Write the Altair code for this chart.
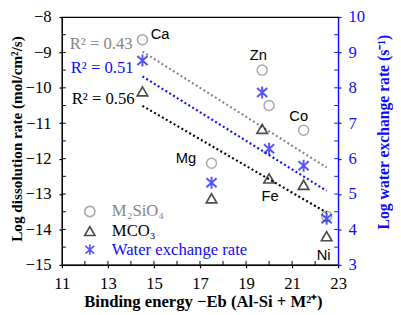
import altair as alt
import pandas as pd

elements = ["Ca", "Mg", "Zn", "Fe", "Co", "Ni"]
binding = [14.5, 17.5, 19.7, 20.0, 21.5, 22.5]
silicate = [-8.64, -12.13, -9.50, -10.50, -11.20, -13.63]
carbonate = [-10.10, -13.12, -11.16, -12.56, -12.74, -14.19]
water = [8.77, 5.32, 7.87, 6.28, 5.80, 4.30]

series_names = ["M₂SiO₄", "MCO₃", "Water exchange rate"]
r2_labels = ["R² = 0.43", "R² = 0.56", "R² = 0.51"]

x_ticks = [11, 13, 15, 17, 19, 21, 23]
x_minor = [12, 13, 14, 15, 16, 17, 18, 19, 20, 21, 22]
y_ticks = [-15, -14, -13, -12, -11, -10, -9, -8]
y_minor = [-14.5, -14, -13.5, -13, -12.5, -12, -11.5, -11, -10.5, -10, -9.5, -9, -8.5]
y2_ticks = [3, 4, 5, 6, 7, 8, 9, 10]

GRAY = "#858585"
BLUE = "#0c0cff"
BLACK = "#000000"
SERIF = "Liberation Serif"
SANS = "Liberation Sans"
TOP = 6
W, H = 282, 253
ASTER = "M0,-1L0,1M-0.85,-0.75L0.85,0.75M-0.85,0.75L0.85,-0.75"

sil = pd.DataFrame({"el": elements, "x": binding, "y": silicate, "series": series_names[0]})
carb = pd.DataFrame({"el": elements, "x": binding, "y": carbonate, "series": series_names[1]})
wat = pd.DataFrame({"el": elements, "x": binding, "y": water, "series": series_names[2]})
xmin_df = pd.DataFrame({"x": x_minor})
ymin_df = pd.DataFrame({"y": y_minor})

xscale = alt.Scale(domain=[11, 23], nice=False, zero=False)
yscale = alt.Scale(domain=[-15, -8], nice=False, zero=False)
y2scale = alt.Scale(domain=[3, 10], nice=False, zero=False)
shape_scale = alt.Scale(domain=series_names, range=["circle", "triangle-up", ASTER])
color_scale = alt.Scale(domain=series_names, range=[GRAY, BLACK, BLUE])

xaxis = alt.Axis(values=x_ticks, tickSize=3, labelPadding=8, labelFont=SERIF, labelFontSize=17,
                 labelColor="black", domainColor="black", tickColor="black", grid=False,
                 labelOverlap=False, labelFlush=False,
                 title="Binding energy −Eb (Al-Si + M²⁺)", titleFont=SERIF, titleFontSize=17,
                 titleFontWeight="bold", titleX=144, titleY=38, titleBaseline="middle",
                 titleAlign="center", titleColor="black")
yaxis = alt.Axis(values=y_ticks, tickSize=3, labelPadding=8, labelFont=SERIF, labelFontSize=17,
                 labelColor="black", domainColor="black", tickColor="black", grid=False,
                 labelOverlap=False, labelFlush=False,
                 title="Log dissolution rate (mol/cm²/s)", titleFont=SERIF, titleFontSize=15.5,
                 titleFontWeight="bold", titleX=-46, titleY=138 - 8 - TOP, titleAngle=270,
                 titleBaseline="middle", titleAlign="center", titleColor="black")
y2axis = alt.Axis(values=y2_ticks, orient="right", tickSize=3, labelPadding=7, labelFont=SERIF,
                  labelFontSize=17, labelColor=BLUE, domainColor=BLUE, tickColor=BLUE, grid=False,
                  labelOverlap=False, labelFlush=False,
                  title="Log water exchange rate (s⁻¹)", titleFont=SERIF, titleFontSize=16,
                  titleFontWeight="bold", titleX=46, titleY=131 - 8 - TOP, titleAngle=270,
                  titleBaseline="middle", titleAlign="center", titleColor=BLUE)

legend = alt.Legend(title=None, orient="none", legendX=20, legendY=204 - 8 - TOP, labelFont=SERIF,
                    labelFontSize=17, symbolSize=110, symbolStrokeWidth=1.7, rowPadding=1,
                    labelOffset=14, padding=0,
                    labelColor={"expr": "datum.value === 'MCO₃' ? 'black' : (datum.value === 'M₂SiO₄' ? '%s' : '%s')" % (GRAY, BLUE)})

X = alt.X("x:Q", scale=xscale, axis=xaxis)
Y = alt.Y("y:Q", scale=yscale, axis=yaxis)
Y2 = alt.Y("y:Q", scale=y2scale, axis=y2axis)
SH = alt.Shape("series:N", scale=shape_scale, legend=legend)
CO = alt.Color("series:N", scale=color_scale, legend=legend)

dash = [2, 2.6]

sil_pts = alt.Chart(sil).mark_point(filled=False, size=105, strokeWidth=1.5).encode(x=X, y=Y, shape=SH, color=CO)
carb_pts = alt.Chart(carb).mark_point(filled=False, size=115, strokeWidth=1.7).encode(x=X, y=Y, shape=SH, color=CO)
sil_line = alt.Chart(sil).transform_regression("x", "y").mark_line(
    color=GRAY, strokeDash=dash, strokeWidth=2.2).encode(x=X, y=Y)
carb_line = alt.Chart(carb).transform_regression("x", "y").mark_line(
    color=BLACK, strokeDash=dash, strokeWidth=2.2).encode(x=X, y=Y)

def label(df, el, dx, dy, color="black", align="center"):
    return alt.Chart(df).transform_filter(alt.datum.el == el).mark_text(
        font=SANS, fontSize=15, color=color, dx=dx, dy=dy, align=align, baseline="middle"
    ).encode(x=X, y=Y, text="el:N")

labels = [
    label(sil, "Ca", 18, -6),
    label(sil, "Zn", -4, -15),
    label(sil, "Co", -5, -15),
    label(sil, "Mg", -26, -5),
    label(carb, "Fe", 1, 18),
    label(carb, "Ni", -3, 19),
]

def r2(df, txt, color, dx, dy, yenc):
    return alt.Chart(df).transform_filter(alt.datum.el == "Ca").mark_text(
        font=SERIF, fontSize=17, color=color, dx=dx, dy=dy, align="right", baseline="middle", text=txt
    ).encode(x=X, y=yenc)

r2_sil = r2(sil, r2_labels[0], GRAY, -10, 5, Y)
r2_carb = r2(carb, r2_labels[1], BLACK, -8, 8, Y)

xminor = alt.Chart(xmin_df).mark_rule(color="black", strokeWidth=1).encode(
    x=X, y=alt.value(H), y2=alt.value(H - 4))
yminor = alt.Chart(ymin_df).mark_rule(color="black", strokeWidth=1).encode(
    y=Y, x=alt.value(0), x2=alt.value(4))
y2minor = alt.Chart(ymin_df).mark_rule(color=BLUE, strokeWidth=1).encode(
    y=Y, x=alt.value(W - 4), x2=alt.value(W))

left = alt.layer(sil_pts, xminor, yminor, y2minor, sil_line, carb_line, carb_pts, r2_sil, r2_carb, *labels)

wat_pts = alt.Chart(wat).mark_point(filled=False, size=150, strokeWidth=2).encode(
    x=X, y=Y2, shape=SH, color=CO)
wat_line = alt.Chart(wat).transform_regression("x", "y").mark_line(
    color=BLUE, strokeDash=dash, strokeWidth=2.2).encode(x=X, y=Y2)
r2_wat = r2(wat, r2_labels[2], BLUE, -9, 8, Y2)
right = alt.layer(wat_pts, wat_line, r2_wat)

chart = alt.layer(left, right).resolve_scale(y="independent").properties(
    width=W, height=H,
    autosize=alt.AutoSizeParams(type="none"),
    padding={"left": 55, "top": TOP, "right": 56, "bottom": 48},
).configure_view(stroke="black", strokeWidth=1.2).configure_axis(
    domainWidth=1.2, tickWidth=1.2, labelOverlap=False)

chart.save("out.html", embed_options={"renderer": "svg", "actions": False})
